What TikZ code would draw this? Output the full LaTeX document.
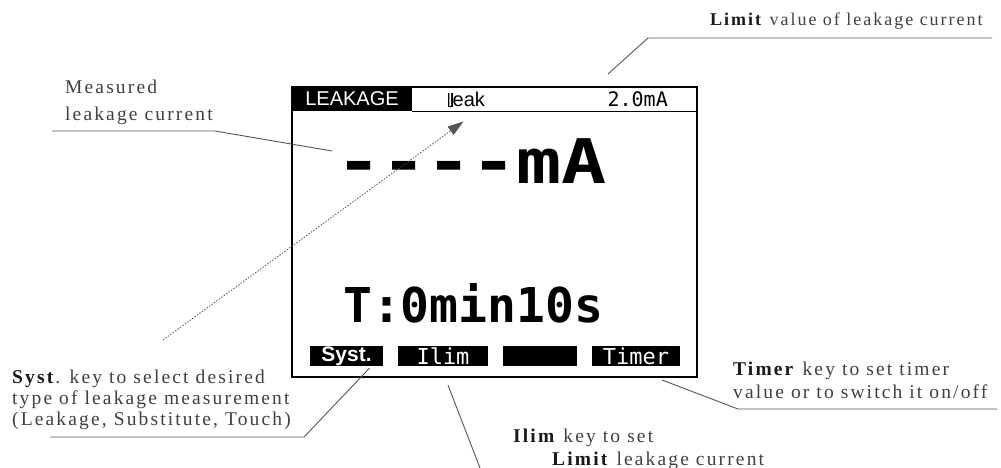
\documentclass[tikz,border=0pt]{standalone}
\usepackage{fontspec}
\setmainfont{Liberation Serif}
\newfontfamily\notefont{Liberation Serif}[LetterSpace=11]
\newfontfamily\lcdfont{DejaVu Sans Mono}
\newfontfamily\keyfont{Liberation Sans}
\usetikzlibrary{positioning,arrows.meta}
\definecolor{notegray}{HTML}{404040}
\definecolor{notedark}{HTML}{1A1A1A}
\definecolor{leadgray}{HTML}{555555}
\newcommand{\hot}[1]{\textcolor{notedark}{\textbf{#1}}}

\begin{document}
\begin{tikzpicture}[x=1pt, y=1pt,
    note/.style={anchor=base west, inner sep=0pt, align=left, text=notegray, font=\notefont\fontsize{19.5}{21}\selectfont},
    key/.style={fill=black, minimum height=20pt, inner sep=0pt, text=white},
    lead/.style={draw=leadgray, line width=0.9pt},
    pointer/.style={draw=leadgray, line width=0.8pt, dash pattern=on 1.5pt off 1.5pt, -{Triangle[length=16pt,width=10pt]}},
]
\useasboundingbox (0,0) rectangle (1001,-468);

% display
\node[draw, line width=2.5pt, minimum width=405pt, minimum height=290pt, inner sep=0pt] (lcd) at (494.5,-232) {};
\node[key, minimum width=120pt, minimum height=24pt, font=\keyfont\fontsize{20}{20}\selectfont] (mode) at (352,-99) {LEAKAGE};
\draw[line width=1.2pt] (mode.south east) -- (lcd.east |- mode.south);
\node[anchor=base west, inner sep=0pt, font=\keyfont\fontsize{20}{20}\selectfont] (leak) at (448,-107) {{\fboxsep=0pt\colorbox{black}{\textcolor{white}{l}}}eak};
\node[anchor=base east, inner sep=0pt, font=\lcdfont\fontsize{20}{20}\selectfont] (limitval) at (668,-107) {2.0mA};
\node[anchor=base west, inner sep=0pt, font=\lcdfont\bfseries\fontsize{75}{75}\selectfont, yscale=0.82, transform shape] (reading) at (336,-183) {----mA};
\node[anchor=base west, inner sep=0pt, font=\lcdfont\bfseries\fontsize{48}{48}\selectfont] (clock) at (343,-322) {T:0min10s};

% soft keys
\node[key, minimum width=73pt, font=\keyfont\bfseries\fontsize{21}{21}\selectfont] (syst) at (346.5,-356) {Syst.};
\node[key, minimum width=90pt, font=\lcdfont\fontsize{22}{22}\selectfont] (ilim) at (443,-356) {Ilim};
\node[key, minimum width=74pt] (blank) at (540,-356) {};
\node[key, minimum width=88pt, font=\lcdfont\fontsize{22}{22}\selectfont] (tkey) at (636,-356) {Timer};

% notes (base = last line)
\node[note, font=\notefont\fontsize{18}{21}\selectfont] (limitnote) at (710,-26) {\hot{Limit} value of leakage current};
\node[note, font=\notefont\fontsize{19.5}{27}\selectfont] (measnote) at (65,-121) {Measured\\leakage current};
\node[note] (systnote) at (12,-425) {\hot{Syst}. key to select desired\\type of leakage measurement\\(Leakage, Substitute, Touch)};
\node[note, font=\notefont\fontsize{19.5}{23}\selectfont] (ilimnote) at (513,-465) {\hot{Ilim} key to set\\\hspace*{39pt}\hot{Limit} leakage current};
\node[note, font=\notefont\fontsize{19.5}{23}\selectfont] (timernote) at (733,-398) {\hot{Timer} key to set timer\\value or to switch it on/off};

% leaders
\coordinate (limitend) at (992,-38);
\coordinate (limitbend) at (648,-38);
\coordinate (limittip) at (608,-74);
\draw[lead] (limitend) -- (limitbend) -- (limittip);

\coordinate (measend) at (52,-131);
\coordinate (measbend) at (215,-131);
\draw[lead] (measend) -- (measbend) -- (332,-151) coordinate (meastip);

\coordinate (systend) at (50,-437);
\coordinate (systbend) at (304,-437);
\draw[lead] (systend) -- (systbend) -- ([xshift=23pt,yshift=-2pt]syst.south);

\draw[lead] ([xshift=5pt,yshift=-19pt]ilim.south) -- (480,-468) coordinate (ilimtip);

\coordinate (timerend) at (997,-409);
\coordinate (timerbend) at (738,-409);
\draw[lead] (timerend) -- (timerbend) -- (662,-380) coordinate (timertip);

\coordinate (pointstart) at (163,-340);
\draw[pointer] (pointstart) -- ([xshift=-3pt,yshift=-14pt]leak.south);
\end{tikzpicture}
\end{document}
